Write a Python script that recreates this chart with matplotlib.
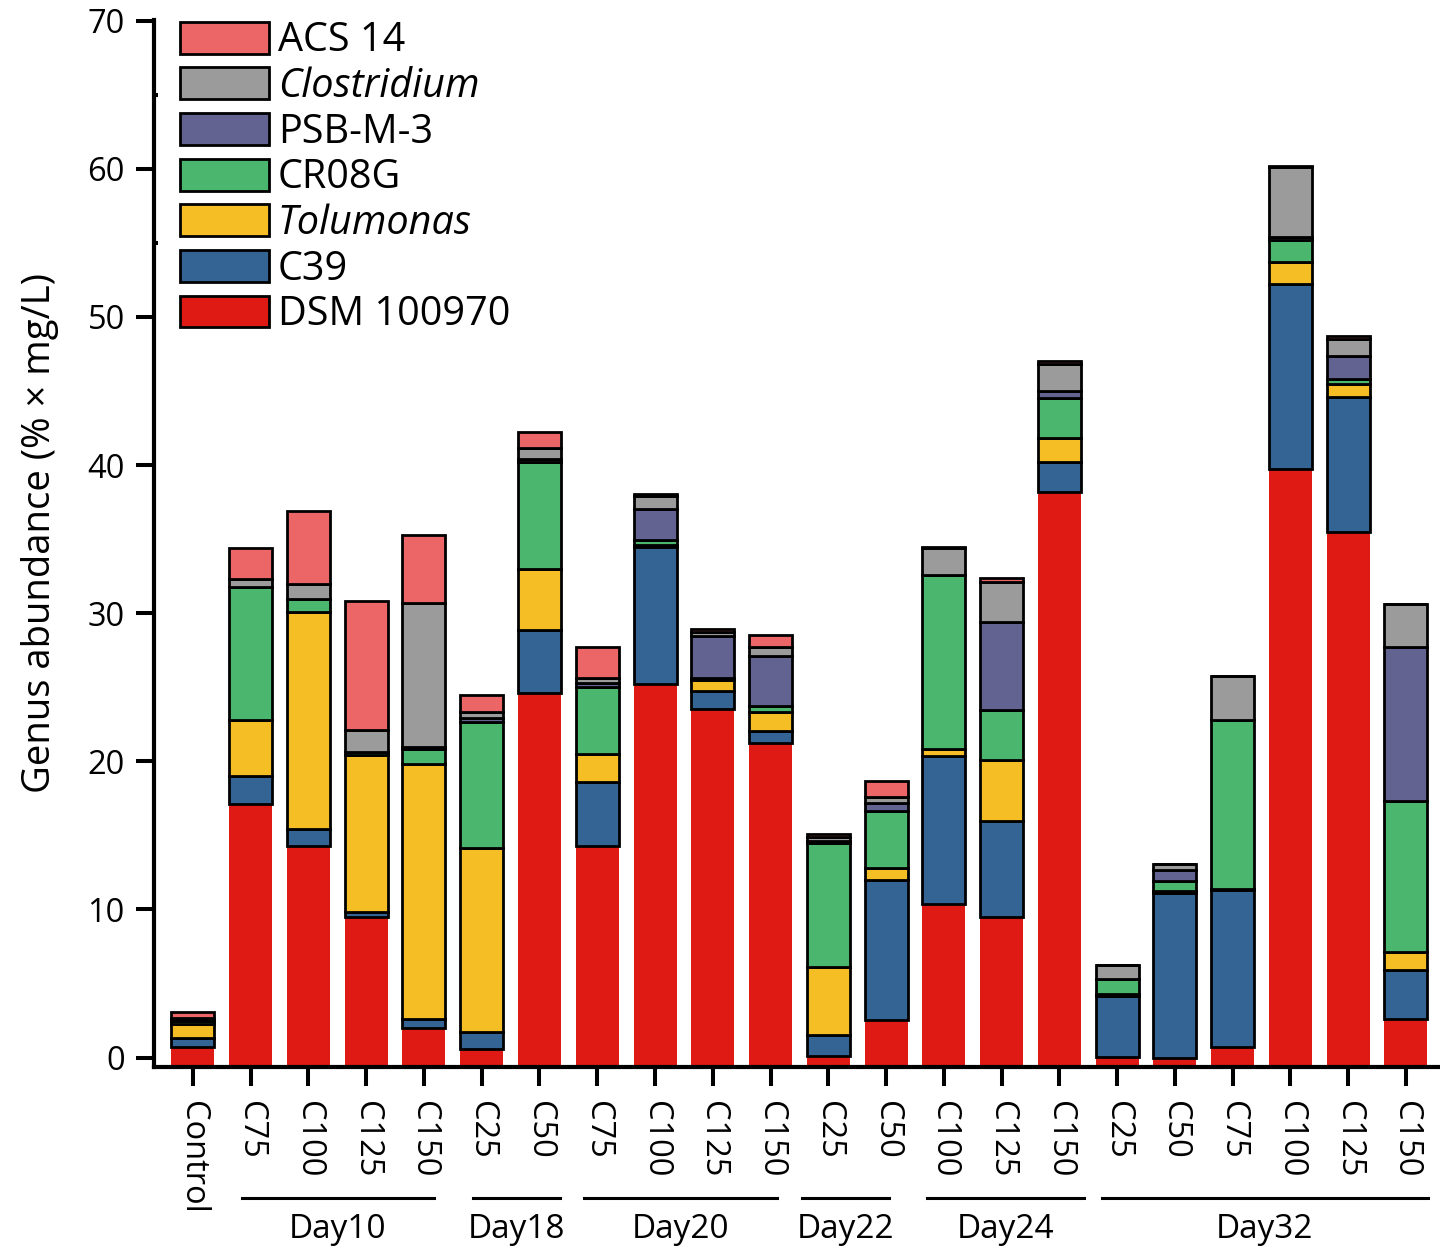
import matplotlib
matplotlib.use('Agg')
import matplotlib.pyplot as plt
from matplotlib.patches import Patch
import numpy as np

plt.rcParams['font.family'] = ['Open Sans', 'DejaVu Sans']

# ---------------- data ----------------
samples = ['Control', 'C75', 'C100', 'C125', 'C150', 'C25', 'C50', 'C75', 'C100',
           'C125', 'C150', 'C25', 'C50', 'C100', 'C125', 'C150', 'C25', 'C50',
           'C75', 'C100', 'C125', 'C150']
groups = ['Day10', 'Day18', 'Day20', 'Day22', 'Day24', 'Day32']

# stacked from bottom to top
dsm100970 = [0.7, 17.1, 14.3, 9.5, 2.0, 0.6, 24.6, 14.3, 25.2, 23.5, 21.25,
             0.1, 2.55, 10.4, 9.5, 38.15, 0.05, 0.0, 0.7, 39.75, 35.5, 2.6]
c39 = [0.6, 1.9, 1.15, 0.3, 0.6, 1.1, 4.25, 4.3, 9.3, 1.25, 0.8,
       1.4, 9.45, 9.95, 6.45, 2.05, 4.1, 11.1, 10.6, 12.45, 9.1, 3.3]
tolumonas = [1.0, 3.8, 14.6, 10.6, 17.2, 12.45, 4.1, 1.9, 0.1, 0.75, 1.3,
             4.65, 0.8, 0.5, 4.15, 1.65, 0.15, 0.15, 0.1, 1.5, 0.9, 1.2]
cr08g = [0.2, 9.0, 0.9, 0.25, 1.0, 8.5, 7.25, 4.55, 0.35, 0.1, 0.4,
         8.35, 3.85, 11.7, 3.35, 2.7, 1.0, 0.7, 11.4, 1.5, 0.3, 10.2]
psbm3 = [0.1, 0.0, 0.0, 0.0, 0.15, 0.3, 0.2, 0.25, 2.1, 2.85, 3.35,
         0.15, 0.55, 0.0, 5.95, 0.45, 0.0, 0.7, 0.0, 0.2, 1.55, 10.45]
clostridium = [0.1, 0.5, 1.05, 1.45, 9.75, 0.35, 0.75, 0.35, 0.85, 0.3, 0.65,
               0.25, 0.4, 1.85, 2.7, 1.85, 0.95, 0.4, 2.95, 4.7, 1.15, 2.85]
acs14 = [0.4, 2.1, 4.9, 8.7, 4.6, 1.2, 1.1, 2.05, 0.15, 0.2, 0.8,
         0.2, 1.1, 0.05, 0.25, 0.15, 0.0, 0.0, 0.0, 0.05, 0.2, 0.05]

series_names = ['DSM 100970', 'C39', 'Tolumonas', 'CR08G', 'PSB-M-3', 'Clostridium', 'ACS 14']
series_vals = [dsm100970, c39, tolumonas, cr08g, psbm3, clostridium, acs14]
series_colors = ['#DF1A15', '#346494', '#F4BE24', '#4BB66E', '#636392', '#9B9B9B', '#EC6567']
italic_names = ['Clostridium', 'Tolumonas']

# group underline spans (x in bar-index units) – layout only
group_spans = [(0.85, 4.17), (4.85, 6.35), (6.77, 10.11), (10.54, 12.05),
               (12.71, 15.43), (15.74, 21.38)]

# ---------------- figure ----------------
fig = plt.figure(figsize=(14.4, 12.54), dpi=100)
ax = fig.add_axes([0.1069, 0.1495, 0.8931, 0.8347])

YMIN, YMAX = -0.6, 70.05
x = np.arange(len(samples))
width = 0.745
bottom = np.zeros(len(samples))
for i, (vals, col) in enumerate(zip(series_vals, series_colors)):
    v = np.array(vals, dtype=float)
    if i == 0:
        ax.bar(x, v - YMIN, bottom=YMIN, width=width, color=col,
               edgecolor='none', zorder=2)
    else:
        ax.bar(x, v, bottom=bottom, width=width, color=col,
               edgecolor='black', linewidth=2.0, zorder=2)
    bottom += v

ax.set_xlim(-0.675, 21.59)
ax.set_ylim(YMIN, YMAX)
for s in ['top', 'right']:
    ax.spines[s].set_visible(False)
for s in ['left', 'bottom']:
    ax.spines[s].set_linewidth(3)

ax.set_yticks(np.arange(0, 71, 10))
ax.set_yticks([55, 65], minor=True)
ax.tick_params(axis='y', which='major', direction='out', length=13, width=2.9,
               pad=8, labelsize=23.5)
ax.tick_params(axis='y', which='minor', direction='in', length=3, width=2.9)
ax.set_xticks(x)
ax.set_xticklabels(samples, rotation=-90)
ax.tick_params(axis='x', which='major', direction='out', length=14, width=2.9,
               pad=11, labelsize=23.5)

tr = ax.get_xaxis_transform()
for name, (s, e) in zip(groups, group_spans):
    ax.plot([s, e], [-0.1256, -0.1256], transform=tr, clip_on=False,
            color='black', lw=2.2)
    ax.text((s + e) / 2, -0.1638, name, transform=tr, ha='center',
            va='baseline', fontsize=24)

fig.text(40 / 1440, 0.575, 'Genus abundance (% × mg/L)', rotation=90,
         ha='center', va='center', fontsize=27.5)

handles = [Patch(facecolor=c, edgecolor='black', linewidth=2)
           for c in series_colors][::-1]
labels = series_names[::-1]
leg = ax.legend(handles, labels, loc='upper left', bbox_to_anchor=(0.0202, 0.999),
                frameon=False, fontsize=28.5, handlelength=2.25, handleheight=0.86,
                handletextpad=0.22, labelspacing=0.13, borderpad=0, borderaxespad=0)
for t in leg.get_texts():
    if t.get_text() in italic_names:
        t.set_fontstyle('italic')

fig.savefig('out.png', dpi=100)
